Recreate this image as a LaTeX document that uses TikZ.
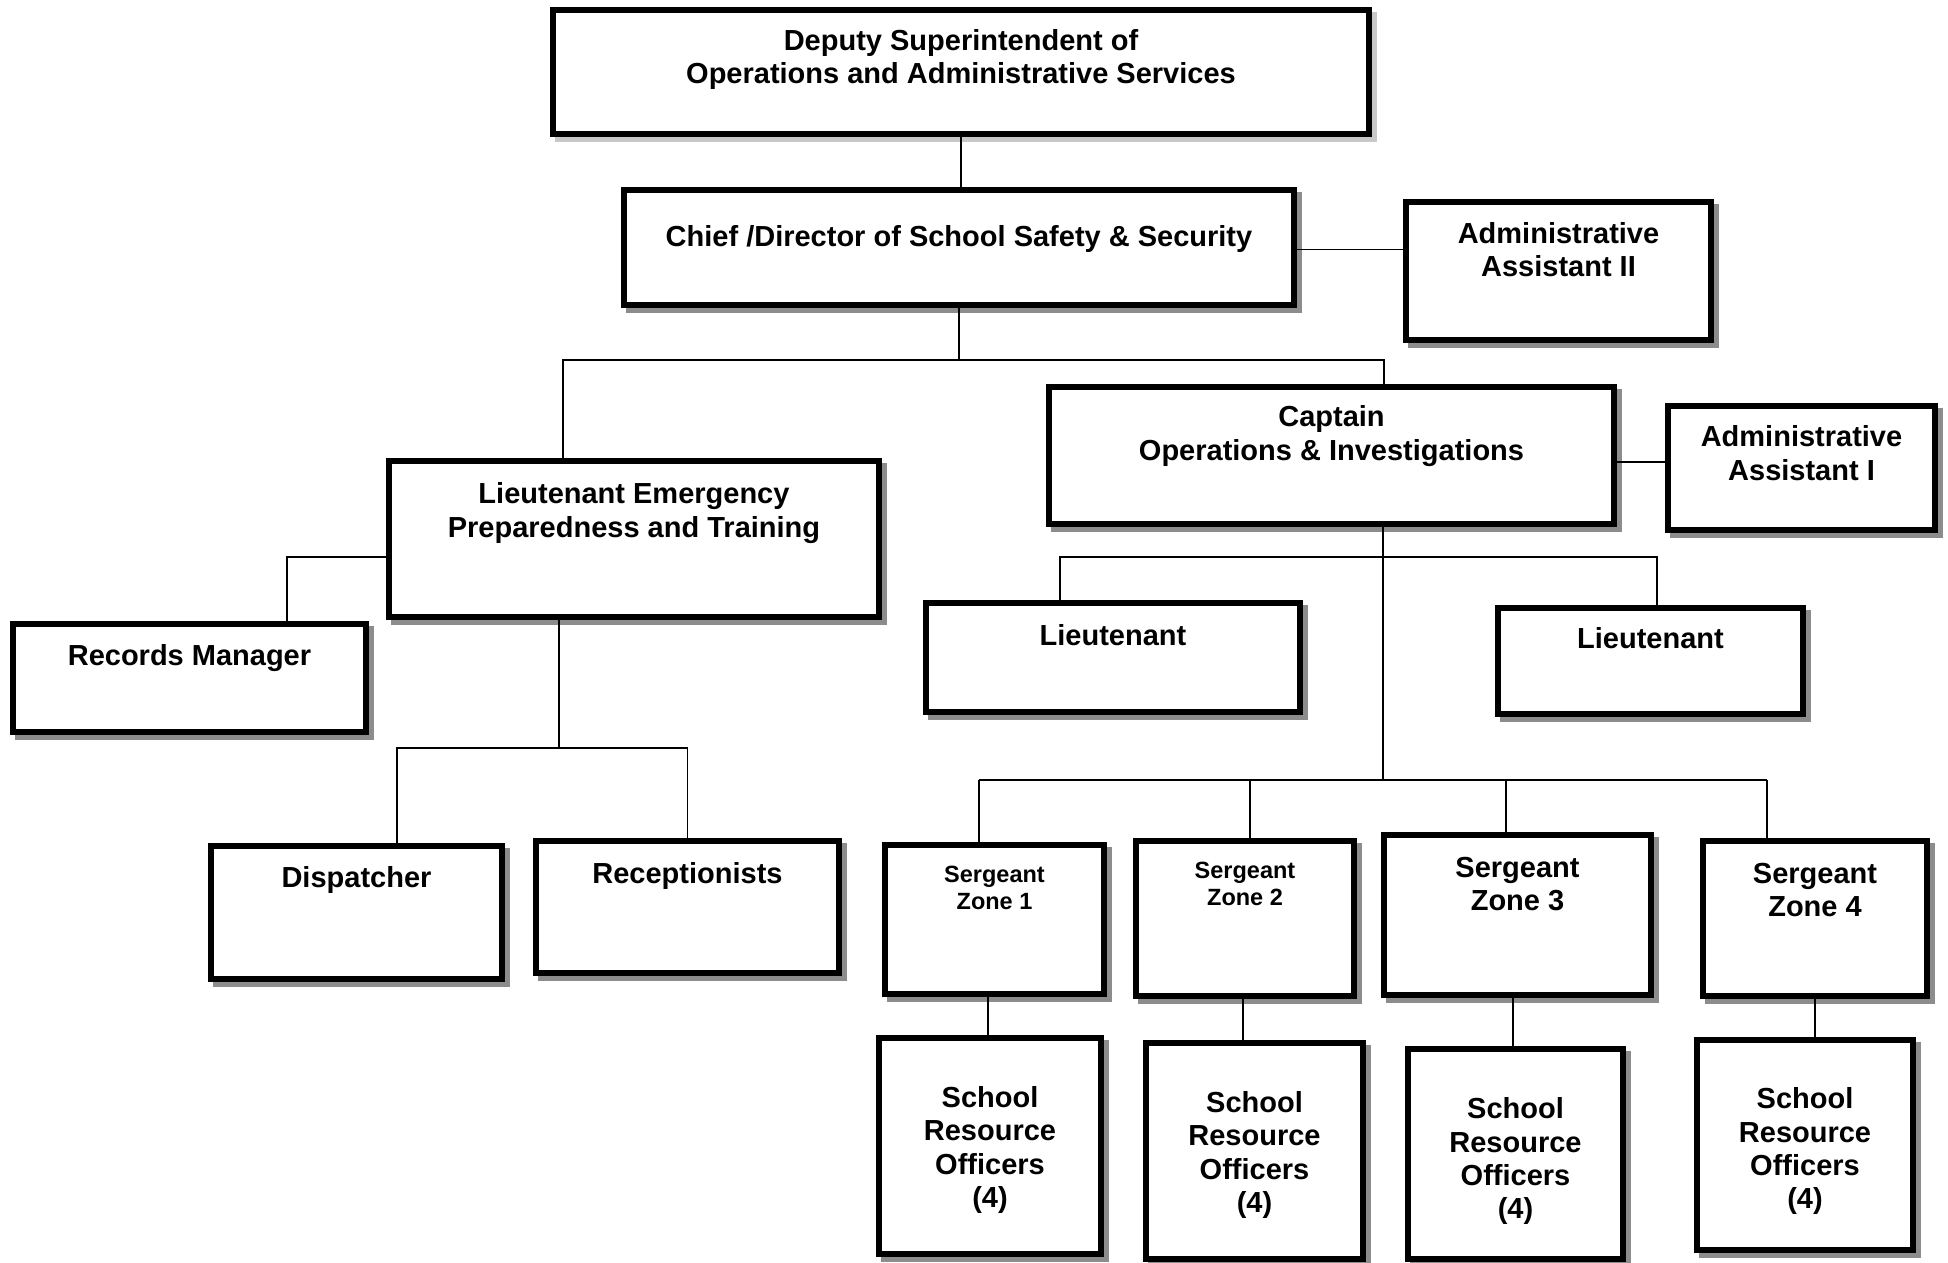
\documentclass[tikz,border=0pt]{standalone}
\usepackage{fontspec}
\setmainfont{Liberation Sans}
\usetikzlibrary{shadows}

\definecolor{shadegray}{RGB}{140,140,140}
\definecolor{paleshade}{RGB}{200,200,200}

\tikzset{
    box/.style={draw, line width=6pt, fill=white, inner sep=0pt,
        drop shadow={shadow xshift=4.5pt, shadow yshift=-4.5pt, opacity=1,
            fill=#1, draw=#1, line width=6pt}},
    box/.default=shadegray,
    ttl/.style={anchor=north, inner sep=0pt, align=center,
        font=\fontsize{29}{33.4}\selectfont\bfseries},
    ttlsmall/.style={ttl, font=\fontsize{23.5}{27}\selectfont\bfseries},
    link/.style={line width=1.8pt}
}

\begin{document}
\begin{tikzpicture}[x=1pt, y=-1pt]
        \useasboundingbox (0,0) rectangle (1948,1262);

        \node[box=paleshade, minimum width=816pt, minimum height=124pt] (dep) at (961,72) {};
        \foreach \n/\cx/\cy/\w/\h in {chief/959/247.5/670/115, adm2/1558.5/271/305/138,
                capt/1331.5/455.5/565/137, adm1/1801.5/468/267/124,
                ltem/634/539/490/156, rec/189.5/678/353/108,
                lt1/1113/657.5/374/109, lt2/1650.5/661/305/106,
                disp/356.5/912.5/291/133, recp/687.5/907/303/132,
                sgt1/994.5/919.5/219/149, sgt2/1245/918.5/218/155,
                sgt3/1517.5/915/267/160, sgt4/1815/918.5/224/155,
                sro1/990/1146/222/216, sro2/1254.5/1151/217/216,
                sro3/1515.5/1154/215/210, sro4/1805/1145/216/210}
            \node[box, minimum width=\w pt, minimum height=\h pt] (\n) at (\cx,\cy) {};

        \node[ttl] (depL) at (961,29) {Deputy Superintendent of\\Operations and Administrative Services};
        \node[ttl] (chiefL) at (959,225) {Chief /Director of School Safety \& Security};
        \node[ttl] (adm2L) at (1558.5,222) {Administrative\\Assistant II};
        \node[ttl] (captL) at (1331.5,405.5) {Captain\\Operations \& Investigations};
        \node[ttl] (adm1L) at (1801.5,425.5) {Administrative\\Assistant I};
        \node[ttl] (ltemL) at (634,482.5) {Lieutenant Emergency\\Preparedness and Training};
        \node[ttl] (recL) at (189.5,644) {Records Manager};
        \node[ttl] (lt1L) at (1113,624) {Lieutenant};
        \node[ttl] (lt2L) at (1650.5,627.5) {Lieutenant};
        \node[ttl] (dispL) at (356.5,866) {Dispatcher};
        \node[ttl] (recpL) at (687.5,862.5) {Receptionists};
        \node[ttlsmall] (sgt1L) at (994.5,865.5) {Sergeant\\Zone 1};
        \node[ttlsmall] (sgt2L) at (1245,861.5) {Sergeant\\Zone 2};
        \node[ttl] (sgt3L) at (1517.5,857) {Sergeant\\Zone 3};
        \node[ttl] (sgt4L) at (1815,863) {Sergeant\\Zone 4};
        \foreach \i/\x/\y in {1/990/1086, 2/1254.5/1091, 3/1515.5/1097.5, 4/1805/1087.5}
            \node[ttl] (sro\i L) at (\x,\y) {School\\Resource\\Officers\\(4)};

        \coordinate (b1L) at (563,360);
        \coordinate (b1R) at (1384,360);
        \coordinate (r1) at (287,557);
        \coordinate (b2) at (559,748);
        \coordinate (b2L) at (397,748);
        \coordinate (b3L) at (1060,557);
        \coordinate (b3R) at (1657,557);
        \coordinate (b4) at (1383,780);

        \draw[link] (dep.south) -- (dep.south |- chief.north);
        \draw[link] ([yshift=-2pt]chief.east) -- ([yshift=-2pt]chief.east -| adm2.west);
        \draw[link] (chief.south) -- (chief.south |- b1L);
        \draw[link] (ltem.north -| b1L) |- (b1R) -- (capt.north -| b1R);
        \draw[link] ([yshift=-6.5pt]capt.east) -- ([yshift=-6.5pt]capt.east -| adm1.west);
        \draw[link] (ltem.west |- r1) -| (rec.north -| r1);
        \draw[link] (ltem.south -| b2) -- (b2);
        \draw[link] (disp.north -| b2L) |- (recp.north |- b2L) -- (recp.north);
        \draw[link] (lt1.north -| b3L) |- (b3R) -- (lt2.north -| b3R);
        \draw[link] (capt.south -| b4) -- (b4);

        \foreach \i/\x in {1/979, 2/1250, 3/1506, 4/1767}{
            \coordinate (s\i) at (\x,780);
            \draw[link] (s\i) -- (sgt\i.north -| s\i);
        }
        \draw[link] (s1) -- (s4);

        \foreach \i/\x in {1/988, 2/1243, 3/1513, 4/1815}{
            \coordinate (u\i) at (\x,0);
            \draw[link] (sgt\i.south -| u\i) -- (sro\i.north -| u\i);
        }
    \end{tikzpicture}
\end{document}
